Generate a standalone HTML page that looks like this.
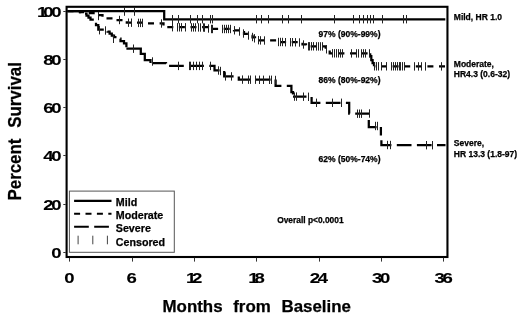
<!DOCTYPE html>
<html lang="en"><head><meta charset="utf-8"><title>Percent Survival by Months from Baseline</title>
<style>
html,body{margin:0;padding:0;background:#fff;}
body{width:520px;height:317px;overflow:hidden;}
svg{display:block;filter:grayscale(1);}
text{font-family:"Liberation Sans",Arial,Helvetica,sans-serif;font-weight:bold;fill:#000;stroke:#000;stroke-width:0.25px;stroke-linejoin:round;}
.ax{font-size:14.6px;letter-spacing:-1.8px;stroke-width:0.1px;}
.ttl{font-size:16.9px;word-spacing:6px;}
.ann{font-size:8.5px;}
.leg{font-size:10.7px;}
.cur{fill:none;stroke:#000;stroke-width:2.25;}
.cen{stroke:#222;stroke-width:1;fill:none;}
.tk{stroke:#333;stroke-width:1;fill:none;}
</style></head><body>
<svg width="520" height="317" viewBox="0 0 520 317">
<rect x="0" y="0" width="520" height="317" fill="#fff"/>
<rect x="66.6" y="6.8" width="380.85" height="250.2" fill="none" stroke="#000" stroke-width="2.1"/>
<line class="tk" x1="63.3" y1="252.50" x2="65.8" y2="252.50"/>
<text class="ax" transform="translate(59.2 257.70) scale(1.27 1.05)" text-anchor="end">0</text>
<line class="tk" x1="63.3" y1="204.50" x2="65.8" y2="204.50"/>
<text class="ax" transform="translate(59.2 209.56) scale(1.27 1.05)" text-anchor="end">20</text>
<line class="tk" x1="63.3" y1="155.50" x2="65.8" y2="155.50"/>
<text class="ax" transform="translate(59.2 161.42) scale(1.27 1.05)" text-anchor="end">40</text>
<line class="tk" x1="63.3" y1="107.50" x2="65.8" y2="107.50"/>
<text class="ax" transform="translate(59.2 113.28) scale(1.27 1.05)" text-anchor="end">60</text>
<line class="tk" x1="63.3" y1="59.50" x2="65.8" y2="59.50"/>
<text class="ax" transform="translate(59.2 65.14) scale(1.27 1.05)" text-anchor="end">80</text>
<line class="tk" x1="63.3" y1="11.50" x2="65.8" y2="11.50"/>
<text class="ax" transform="translate(59.2 17.00) scale(1.27 1.05)" text-anchor="end">1<tspan dx="-1.5">0</tspan>0</text>
<line class="tk" x1="69.50" y1="257.8" x2="69.50" y2="261.6"/>
<text class="ax" transform="translate(68.20 282.5) scale(1.27 1.05)" text-anchor="middle">0</text>
<line class="tk" x1="132.50" y1="257.8" x2="132.50" y2="261.6"/>
<text class="ax" transform="translate(130.58 282.5) scale(1.27 1.05)" text-anchor="middle">6</text>
<line class="tk" x1="194.50" y1="257.8" x2="194.50" y2="261.6"/>
<text class="ax" transform="translate(192.96 282.5) scale(1.27 1.05)" text-anchor="middle">1<tspan dx="-1.5">2</tspan></text>
<line class="tk" x1="256.50" y1="257.8" x2="256.50" y2="261.6"/>
<text class="ax" transform="translate(255.35 282.5) scale(1.27 1.05)" text-anchor="middle">1<tspan dx="-1.5">8</tspan></text>
<line class="tk" x1="319.50" y1="257.8" x2="319.50" y2="261.6"/>
<text class="ax" transform="translate(317.73 282.5) scale(1.27 1.05)" text-anchor="middle">24</text>
<line class="tk" x1="381.50" y1="257.8" x2="381.50" y2="261.6"/>
<text class="ax" transform="translate(380.11 282.5) scale(1.27 1.05)" text-anchor="middle">30</text>
<line class="tk" x1="443.50" y1="257.8" x2="443.50" y2="261.6"/>
<text class="ax" transform="translate(442.49 282.5) scale(1.27 1.05)" text-anchor="middle">36</text>
<text class="ttl" x="162.5" y="312">Months from Baseline</text>
<text class="ttl" transform="translate(20.5 200.5) rotate(-90) scale(1 1.08)">Percent Survival</text>
<path class="cur" d="M67.5 11.0 L164.2 11.0 L164.2 19.3 L445.3 19.3"/>
<path class="cur" stroke-dasharray="6 5.6" stroke-dashoffset="0.0" d="M67.5 11.0 L80.0 11.0 L80.0 12.0 L85.0 12.0 L85.0 13.0 L97.5 13.0 L97.5 15.0 L102.5 15.0 L102.5 18.4 L115.0 18.4 L115.0 20.0 L124.5 20.0 L124.5 21.3 L126.8 21.3 L126.8 22.7 L145.0 22.7 L145.0 23.3 L163.5 23.3 L163.5 25.5 L166.0 25.5 L166.0 27.2 L208.0 27.2 L208.0 28.8 L234.0 28.8 L234.0 30.3 L240.0 30.3 L240.0 32.0 L244.0 32.0 L244.0 33.8 L249.0 33.8 L249.0 35.8 L252.5 35.8 L252.5 37.3 L255.0 37.3 L255.0 38.8 L258.0 38.8 L258.0 40.4 L277.5 40.4 L277.5 42.0 L302.5 42.0 L302.5 44.4 L306.0 44.4 L306.0 46.3 L325.7 46.3 L325.7 49.4 L329.7 49.4 L329.7 53.3 L370.2 53.3"/>
<path class="cur" d="M370.2 53.3 L370.2 56.0 L371.3 56.0 L371.3 60.0 L372.6 60.0 L372.6 63.0 L374.0 63.0 L374.0 66.3"/>
<path class="cur" stroke-dasharray="6 5.6" stroke-dashoffset="4.6" d="M374.0 66.3 L445.5 66.3"/>
<path class="cur" stroke-dasharray="14.7 5.4" stroke-dashoffset="0.0" d="M67.5 11.0 L80.0 11.0 L80.0 12.0 L84.5 12.0 L84.5 13.6 L86.5 13.6 L86.5 15.5 L88.5 15.5 L88.5 17.6 L90.5 17.6 L90.5 19.5 L94.0 19.5 L94.0 22.5 L96.0 22.5 L96.0 25.0 L98.3 25.0 L98.3 29.6 L107.6 29.6 L107.6 31.5 L109.6 31.5 L109.6 33.5 L111.8 33.5 L111.8 35.5 L114.0 35.5 L114.0 37.0 L116.5 37.0 L116.5 38.7 L120.5 38.7 L120.5 41.0 L124.0 41.0 L124.0 43.3 L126.4 43.3 L126.4 48.7"/>
<path class="cur" d="M126.4 48.7 L140.8 48.7 L140.8 53.9 L144.8 53.9 L144.8 60.2 L150.5 60.2 L150.5 63.0"/>
<path class="cur" stroke-dasharray="14.7 5.4" stroke-dashoffset="-1.4" d="M150.5 63.0 L166.0 63.0 L166.0 65.9 L214.5 65.9 L214.5 70.3 L224.2 70.3 L224.2 76.4 L238.8 76.4 L238.8 79.6 L275.6 79.6"/>
<path class="cur" stroke-dasharray="14.7 5.4" stroke-dashoffset="2.6" d="M275.6 79.6 L275.6 85.9 L291.4 85.9 L291.4 92.0 L293.0 92.0 L293.0 96.6"/>
<path class="cur" stroke-dasharray="14.7 5.4" stroke-dashoffset="1.2" d="M293.0 96.6 L311.6 96.6 L311.6 102.8 L349.2 102.8 L349.2 113.6 L368.8 113.6 L368.8 127.0 L380.9 127.0"/>
<path class="cur" stroke-dasharray="14.7 5.4" stroke-dashoffset="6.3" d="M380.9 127.0 L380.9 135.5 L381.4 135.5 L381.4 145.0 L445.5 145.0"/>
<line class="cen" x1="172.5" y1="15.0" x2="172.5" y2="23.4"/>
<line class="cen" x1="178.5" y1="15.0" x2="178.5" y2="23.4"/>
<line class="cen" x1="190.5" y1="15.0" x2="190.5" y2="23.4"/>
<line class="cen" x1="197.5" y1="15.0" x2="197.5" y2="23.4"/>
<line class="cen" x1="202.5" y1="15.0" x2="202.5" y2="23.4"/>
<line class="cen" x1="210.5" y1="15.0" x2="210.5" y2="23.4"/>
<line class="cen" x1="212.5" y1="15.0" x2="212.5" y2="23.4"/>
<line class="cen" x1="256.5" y1="15.0" x2="256.5" y2="23.4"/>
<line class="cen" x1="261.5" y1="15.0" x2="261.5" y2="23.4"/>
<line class="cen" x1="268.5" y1="15.0" x2="268.5" y2="23.4"/>
<line class="cen" x1="282.5" y1="15.0" x2="282.5" y2="23.4"/>
<line class="cen" x1="288.5" y1="15.0" x2="288.5" y2="23.4"/>
<line class="cen" x1="301.5" y1="15.0" x2="301.5" y2="23.4"/>
<line class="cen" x1="334.5" y1="15.0" x2="334.5" y2="23.4"/>
<line class="cen" x1="353.5" y1="15.0" x2="353.5" y2="23.4"/>
<line class="cen" x1="359.5" y1="15.0" x2="359.5" y2="23.4"/>
<line class="cen" x1="363.5" y1="15.0" x2="363.5" y2="23.4"/>
<line class="cen" x1="367.5" y1="15.0" x2="367.5" y2="23.4"/>
<line class="cen" x1="370.5" y1="15.0" x2="370.5" y2="23.4"/>
<line class="cen" x1="373.5" y1="15.0" x2="373.5" y2="23.4"/>
<line class="cen" x1="382.5" y1="15.0" x2="382.5" y2="23.4"/>
<line class="cen" x1="403.5" y1="15.0" x2="403.5" y2="23.4"/>
<line class="cen" x1="406.5" y1="15.0" x2="406.5" y2="23.4"/>
<line class="cen" x1="124.5" y1="7.2" x2="124.5" y2="15.8"/>
<line class="cen" x1="134.5" y1="7.2" x2="134.5" y2="15.8"/>
<line class="cen" x1="98.5" y1="11.8" x2="98.5" y2="20.2"/>
<line class="cen" x1="119.5" y1="15.8" x2="119.5" y2="24.2"/>
<line class="cen" x1="128.5" y1="18.5" x2="128.5" y2="26.9"/>
<line class="cen" x1="131.5" y1="18.5" x2="131.5" y2="26.9"/>
<line class="cen" x1="138.5" y1="18.7" x2="138.5" y2="27.1"/>
<line class="cen" x1="140.5" y1="18.7" x2="140.5" y2="27.1"/>
<line class="cen" x1="142.5" y1="18.7" x2="142.5" y2="27.1"/>
<line class="cen" x1="161.5" y1="19.3" x2="161.5" y2="27.7"/>
<line class="cen" x1="172.5" y1="23.0" x2="172.5" y2="31.4"/>
<line class="cen" x1="177.5" y1="23.1" x2="177.5" y2="31.5"/>
<line class="cen" x1="179.5" y1="23.1" x2="179.5" y2="31.5"/>
<line class="cen" x1="181.5" y1="23.1" x2="181.5" y2="31.5"/>
<line class="cen" x1="185.5" y1="23.1" x2="185.5" y2="31.5"/>
<line class="cen" x1="191.5" y1="23.2" x2="191.5" y2="31.6"/>
<line class="cen" x1="193.5" y1="23.2" x2="193.5" y2="31.6"/>
<line class="cen" x1="195.5" y1="23.2" x2="195.5" y2="31.6"/>
<line class="cen" x1="198.5" y1="23.2" x2="198.5" y2="31.6"/>
<line class="cen" x1="200.5" y1="23.3" x2="200.5" y2="31.7"/>
<line class="cen" x1="203.5" y1="23.3" x2="203.5" y2="31.7"/>
<line class="cen" x1="204.5" y1="23.4" x2="204.5" y2="31.8"/>
<line class="cen" x1="208.5" y1="24.3" x2="208.5" y2="32.7"/>
<line class="cen" x1="211.5" y1="24.8" x2="211.5" y2="33.2"/>
<line class="cen" x1="212.5" y1="24.8" x2="212.5" y2="33.2"/>
<line class="cen" x1="222.5" y1="24.8" x2="222.5" y2="33.2"/>
<line class="cen" x1="224.5" y1="24.8" x2="224.5" y2="33.2"/>
<line class="cen" x1="226.5" y1="24.8" x2="226.5" y2="33.2"/>
<line class="cen" x1="228.5" y1="24.8" x2="228.5" y2="33.2"/>
<line class="cen" x1="230.5" y1="24.8" x2="230.5" y2="33.2"/>
<line class="cen" x1="234.5" y1="26.1" x2="234.5" y2="34.5"/>
<line class="cen" x1="239.5" y1="27.3" x2="239.5" y2="35.7"/>
<line class="cen" x1="243.5" y1="29.3" x2="243.5" y2="37.7"/>
<line class="cen" x1="248.5" y1="31.3" x2="248.5" y2="39.7"/>
<line class="cen" x1="252.5" y1="32.8" x2="252.5" y2="41.2"/>
<line class="cen" x1="254.5" y1="34.1" x2="254.5" y2="42.5"/>
<line class="cen" x1="258.5" y1="36.0" x2="258.5" y2="44.4"/>
<line class="cen" x1="260.5" y1="36.2" x2="260.5" y2="44.6"/>
<line class="cen" x1="264.5" y1="36.3" x2="264.5" y2="44.7"/>
<line class="cen" x1="278.5" y1="37.8" x2="278.5" y2="46.2"/>
<line class="cen" x1="280.5" y1="37.8" x2="280.5" y2="46.2"/>
<line class="cen" x1="282.5" y1="37.8" x2="282.5" y2="46.2"/>
<line class="cen" x1="285.5" y1="38.0" x2="285.5" y2="46.4"/>
<line class="cen" x1="290.5" y1="38.0" x2="290.5" y2="46.4"/>
<line class="cen" x1="292.5" y1="38.0" x2="292.5" y2="46.4"/>
<line class="cen" x1="295.5" y1="38.1" x2="295.5" y2="46.5"/>
<line class="cen" x1="299.5" y1="38.3" x2="299.5" y2="46.7"/>
<line class="cen" x1="303.5" y1="40.3" x2="303.5" y2="48.7"/>
<line class="cen" x1="308.5" y1="42.1" x2="308.5" y2="50.5"/>
<line class="cen" x1="309.5" y1="42.1" x2="309.5" y2="50.5"/>
<line class="cen" x1="311.5" y1="42.1" x2="311.5" y2="50.5"/>
<line class="cen" x1="313.5" y1="42.1" x2="313.5" y2="50.5"/>
<line class="cen" x1="316.5" y1="42.2" x2="316.5" y2="50.6"/>
<line class="cen" x1="318.5" y1="42.2" x2="318.5" y2="50.6"/>
<line class="cen" x1="320.5" y1="42.2" x2="320.5" y2="50.6"/>
<line class="cen" x1="322.5" y1="42.2" x2="322.5" y2="50.6"/>
<line class="cen" x1="326.5" y1="45.1" x2="326.5" y2="53.5"/>
<line class="cen" x1="332.5" y1="49.1" x2="332.5" y2="57.5"/>
<line class="cen" x1="334.5" y1="49.1" x2="334.5" y2="57.5"/>
<line class="cen" x1="336.5" y1="49.1" x2="336.5" y2="57.5"/>
<line class="cen" x1="338.5" y1="49.1" x2="338.5" y2="57.5"/>
<line class="cen" x1="340.5" y1="49.2" x2="340.5" y2="57.6"/>
<line class="cen" x1="342.5" y1="49.2" x2="342.5" y2="57.6"/>
<line class="cen" x1="351.5" y1="49.2" x2="351.5" y2="57.6"/>
<line class="cen" x1="356.5" y1="49.2" x2="356.5" y2="57.6"/>
<line class="cen" x1="358.5" y1="49.2" x2="358.5" y2="57.6"/>
<line class="cen" x1="361.5" y1="49.2" x2="361.5" y2="57.6"/>
<line class="cen" x1="363.5" y1="49.2" x2="363.5" y2="57.6"/>
<line class="cen" x1="365.5" y1="49.2" x2="365.5" y2="57.6"/>
<line class="cen" x1="369.5" y1="49.2" x2="369.5" y2="57.6"/>
<line class="cen" x1="374.5" y1="62.1" x2="374.5" y2="70.5"/>
<line class="cen" x1="376.5" y1="62.1" x2="376.5" y2="70.5"/>
<line class="cen" x1="378.5" y1="62.1" x2="378.5" y2="70.5"/>
<line class="cen" x1="381.5" y1="62.1" x2="381.5" y2="70.5"/>
<line class="cen" x1="386.5" y1="62.1" x2="386.5" y2="70.5"/>
<line class="cen" x1="391.5" y1="62.1" x2="391.5" y2="70.5"/>
<line class="cen" x1="393.5" y1="62.1" x2="393.5" y2="70.5"/>
<line class="cen" x1="395.5" y1="62.1" x2="395.5" y2="70.5"/>
<line class="cen" x1="397.5" y1="62.1" x2="397.5" y2="70.5"/>
<line class="cen" x1="399.5" y1="62.1" x2="399.5" y2="70.5"/>
<line class="cen" x1="400.5" y1="62.1" x2="400.5" y2="70.5"/>
<line class="cen" x1="402.5" y1="62.1" x2="402.5" y2="70.5"/>
<line class="cen" x1="404.5" y1="62.1" x2="404.5" y2="70.5"/>
<line class="cen" x1="414.5" y1="62.2" x2="414.5" y2="70.6"/>
<line class="cen" x1="418.5" y1="62.2" x2="418.5" y2="70.6"/>
<line class="cen" x1="421.5" y1="62.2" x2="421.5" y2="70.6"/>
<line class="cen" x1="425.5" y1="62.2" x2="425.5" y2="70.6"/>
<line class="cen" x1="441.5" y1="62.2" x2="441.5" y2="70.6"/>
<line class="cen" x1="99.5" y1="26.0" x2="99.5" y2="34.4"/>
<line class="cen" x1="105.5" y1="26.3" x2="105.5" y2="34.7"/>
<line class="cen" x1="113.5" y1="34.6" x2="113.5" y2="43.0"/>
<line class="cen" x1="133.5" y1="44.5" x2="133.5" y2="52.9"/>
<line class="cen" x1="152.5" y1="57.3" x2="152.5" y2="65.7"/>
<line class="cen" x1="178.5" y1="61.7" x2="178.5" y2="70.1"/>
<line class="cen" x1="189.5" y1="61.7" x2="189.5" y2="70.1"/>
<line class="cen" x1="190.5" y1="61.7" x2="190.5" y2="70.1"/>
<line class="cen" x1="193.5" y1="61.7" x2="193.5" y2="70.1"/>
<line class="cen" x1="196.5" y1="61.7" x2="196.5" y2="70.1"/>
<line class="cen" x1="199.5" y1="61.7" x2="199.5" y2="70.1"/>
<line class="cen" x1="202.5" y1="61.7" x2="202.5" y2="70.1"/>
<line class="cen" x1="210.5" y1="61.7" x2="210.5" y2="70.1"/>
<line class="cen" x1="218.5" y1="66.3" x2="218.5" y2="74.7"/>
<line class="cen" x1="220.5" y1="66.8" x2="220.5" y2="75.2"/>
<line class="cen" x1="225.5" y1="72.2" x2="225.5" y2="80.6"/>
<line class="cen" x1="231.5" y1="72.2" x2="231.5" y2="80.6"/>
<line class="cen" x1="242.5" y1="75.4" x2="242.5" y2="83.8"/>
<line class="cen" x1="248.5" y1="75.5" x2="248.5" y2="83.9"/>
<line class="cen" x1="250.5" y1="75.5" x2="250.5" y2="83.9"/>
<line class="cen" x1="255.5" y1="75.5" x2="255.5" y2="83.9"/>
<line class="cen" x1="259.5" y1="75.6" x2="259.5" y2="84.0"/>
<line class="cen" x1="263.5" y1="75.6" x2="263.5" y2="84.0"/>
<line class="cen" x1="269.5" y1="75.6" x2="269.5" y2="84.0"/>
<line class="cen" x1="271.5" y1="75.6" x2="271.5" y2="84.0"/>
<line class="cen" x1="275.5" y1="75.8" x2="275.5" y2="84.2"/>
<line class="cen" x1="294.5" y1="92.4" x2="294.5" y2="100.8"/>
<line class="cen" x1="296.5" y1="92.4" x2="296.5" y2="100.8"/>
<line class="cen" x1="303.5" y1="92.5" x2="303.5" y2="100.9"/>
<line class="cen" x1="308.5" y1="92.6" x2="308.5" y2="101.0"/>
<line class="cen" x1="316.5" y1="98.6" x2="316.5" y2="107.0"/>
<line class="cen" x1="332.5" y1="98.6" x2="332.5" y2="107.0"/>
<line class="cen" x1="341.5" y1="98.6" x2="341.5" y2="107.0"/>
<line class="cen" x1="357.5" y1="109.5" x2="357.5" y2="117.9"/>
<line class="cen" x1="359.5" y1="109.5" x2="359.5" y2="117.9"/>
<line class="cen" x1="361.5" y1="109.5" x2="361.5" y2="117.9"/>
<line class="cen" x1="369.5" y1="109.3" x2="369.5" y2="117.7"/>
<line class="cen" x1="375.5" y1="121.8" x2="375.5" y2="130.2"/>
<line class="cen" x1="377.5" y1="121.8" x2="377.5" y2="130.2"/>
<line class="cen" x1="387.5" y1="140.8" x2="387.5" y2="149.2"/>
<line class="cen" x1="390.5" y1="140.8" x2="390.5" y2="149.2"/>
<line class="cen" x1="426.5" y1="141.0" x2="426.5" y2="149.4"/>
<line class="cen" x1="432.5" y1="141.0" x2="432.5" y2="149.4"/>
<text class="ann" x="318.6" y="36.8">97% (90%-99%)</text>
<text class="ann" x="318.6" y="83.1">86% (80%-92%)</text>
<text class="ann" x="318.6" y="162.2">62% (50%-74%)</text>
<text class="ann" x="277.2" y="222.8" style="font-size:8.4px">Overall p&lt;0.0001</text>
<text class="ann" x="453.8" y="20.3">Mild, HR 1.0</text>
<text class="ann" x="453.8" y="66.7">Moderate,</text>
<text class="ann" x="453.8" y="77.4">HR4.3 (0.6-32)</text>
<text class="ann" x="453.8" y="146">Severe,</text>
<text class="ann" x="453.8" y="156.5">HR 13.3 (1.8-97)</text>
<rect x="69.4" y="191.1" width="104.9" height="61.2" fill="#fff" stroke="#555" stroke-width="1"/>
<line x1="74.1" y1="200.9" x2="111.5" y2="200.9" stroke="#000" stroke-width="2.1"/>
<line x1="74.1" y1="213.7" x2="111.5" y2="213.7" stroke="#000" stroke-width="2.1" stroke-dasharray="6 5.4"/>
<line x1="74.1" y1="226.7" x2="109" y2="226.7" stroke="#000" stroke-width="2.1" stroke-dasharray="14.7 5.4"/>
<line class="cen" style="stroke:#444" x1="78.1" y1="235.7" x2="78.1" y2="244.3"/>
<line class="cen" style="stroke:#444" x1="92.8" y1="235.7" x2="92.8" y2="244.3"/>
<line class="cen" style="stroke:#444" x1="107.4" y1="235.7" x2="107.4" y2="244.3"/>
<text class="leg" x="115.8" y="205.8">Mild</text>
<text class="leg" x="115.8" y="219.2">Moderate</text>
<text class="leg" x="115.8" y="231.9">Severe</text>
<text class="leg" x="115.8" y="245.6">Censored</text>
</svg></body></html>
